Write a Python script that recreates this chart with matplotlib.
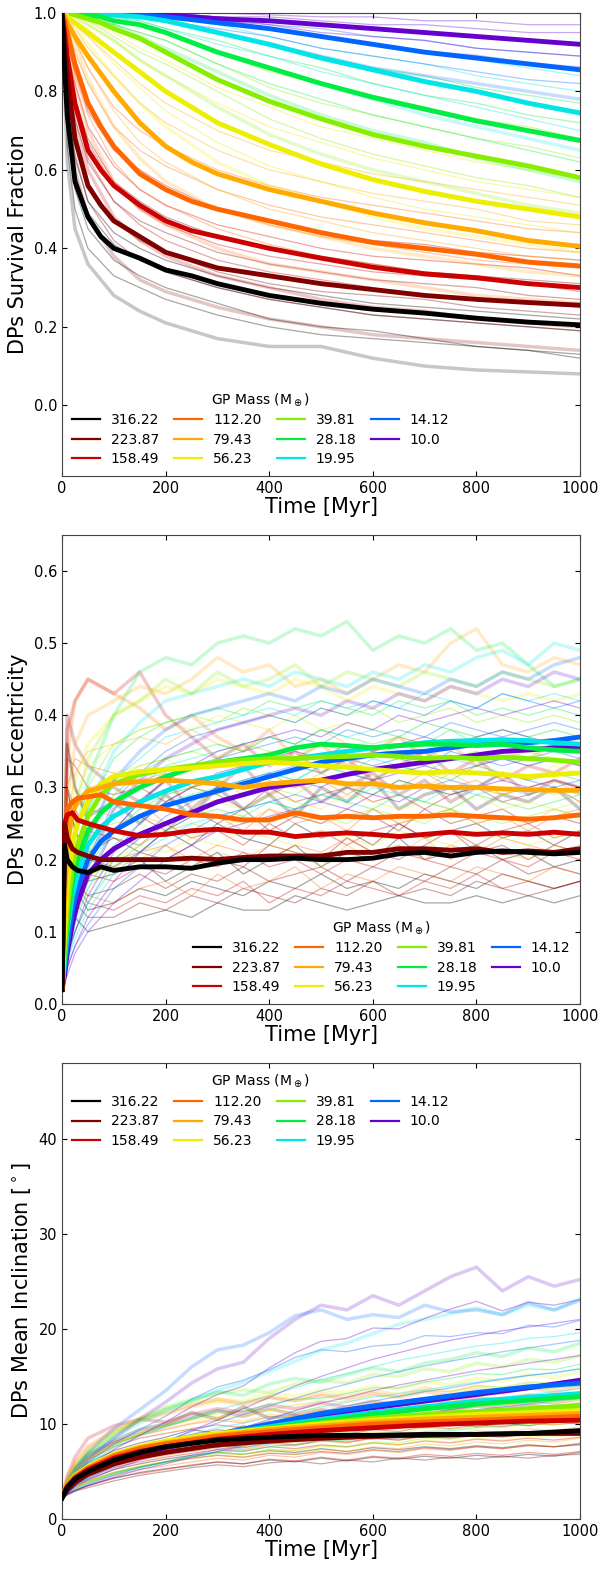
import matplotlib
matplotlib.use('Agg')
import matplotlib.pyplot as plt
from matplotlib.lines import Line2D

masses = ['316.22', '223.87', '158.49', '112.20', '79.43', '56.23',
          '39.81', '28.18', '19.95', '14.12', '10.0']
colors = ['#000000', '#800000', '#cc0000', '#ff6600', '#ffaa00', '#eeee00',
          '#88ee00', '#00ee44', '#00e5e5', '#0066ff', '#6600cc']

# ---- survival fraction, mean curves
t_surv = [0, 5, 10, 25, 50, 75, 100, 150, 200, 250, 300, 400, 500, 600, 700, 800, 900, 1000]
surv_mean = [
    [1.0, 0.86, 0.74, 0.57, 0.48, 0.43, 0.40, 0.375, 0.345, 0.33, 0.31, 0.28, 0.26, 0.245, 0.235, 0.222, 0.212, 0.205],
    [1.0, 0.92, 0.84, 0.68, 0.56, 0.51, 0.47, 0.43, 0.39, 0.37, 0.35, 0.33, 0.31, 0.295, 0.28, 0.27, 0.262, 0.255],
    [1.0, 0.95, 0.89, 0.77, 0.65, 0.60, 0.56, 0.51, 0.47, 0.445, 0.43, 0.40, 0.375, 0.352, 0.335, 0.325, 0.31, 0.30],
    [1.0, 0.98, 0.95, 0.87, 0.77, 0.71, 0.66, 0.59, 0.55, 0.52, 0.50, 0.47, 0.44, 0.415, 0.40, 0.385, 0.365, 0.355],
    [1.0, 0.99, 0.975, 0.94, 0.89, 0.845, 0.80, 0.72, 0.66, 0.62, 0.59, 0.55, 0.52, 0.49, 0.465, 0.445, 0.42, 0.405],
    [1.0, 1.0, 0.99, 0.975, 0.95, 0.925, 0.90, 0.85, 0.80, 0.76, 0.72, 0.665, 0.615, 0.575, 0.545, 0.52, 0.50, 0.48],
    [1.0, 1.0, 1.0, 0.995, 0.985, 0.975, 0.96, 0.935, 0.90, 0.865, 0.83, 0.775, 0.73, 0.69, 0.66, 0.635, 0.61, 0.58],
    [1.0, 1.0, 1.0, 1.0, 0.995, 0.99, 0.98, 0.97, 0.95, 0.925, 0.90, 0.86, 0.82, 0.785, 0.755, 0.725, 0.70, 0.675],
    [1.0, 1.0, 1.0, 1.0, 1.0, 0.998, 0.995, 0.99, 0.98, 0.965, 0.95, 0.92, 0.885, 0.855, 0.825, 0.80, 0.77, 0.745],
    [1.0, 1.0, 1.0, 1.0, 1.0, 1.0, 1.0, 0.995, 0.99, 0.983, 0.975, 0.96, 0.94, 0.92, 0.90, 0.885, 0.87, 0.855],
    [1.0, 1.0, 1.0, 1.0, 1.0, 1.0, 1.0, 1.0, 0.995, 0.99, 0.985, 0.98, 0.97, 0.96, 0.95, 0.94, 0.93, 0.92],
]

# ---- survival fraction, single runs (per mass)
t_surv_runs = [0, 10, 25, 50, 100, 150, 200, 300, 400, 500, 600, 700, 800, 900, 1000]
surv_runs = [
    [[1, 0.62, 0.45, 0.36, 0.28, 0.24, 0.21, 0.17, 0.15, 0.15, 0.12, 0.10, 0.09, 0.085, 0.08],
     [1, 0.70, 0.55, 0.45, 0.37, 0.33, 0.30, 0.26, 0.22, 0.20, 0.19, 0.17, 0.15, 0.14, 0.13],
     [1, 0.78, 0.63, 0.52, 0.44, 0.40, 0.37, 0.33, 0.30, 0.28, 0.26, 0.25, 0.24, 0.23, 0.22]],
    [[1, 0.75, 0.60, 0.48, 0.38, 0.32, 0.29, 0.25, 0.22, 0.20, 0.18, 0.17, 0.16, 0.15, 0.14],
     [1, 0.80, 0.68, 0.56, 0.47, 0.42, 0.39, 0.34, 0.31, 0.29, 0.28, 0.27, 0.25, 0.24, 0.23],
     [1, 0.88, 0.78, 0.68, 0.57, 0.52, 0.48, 0.43, 0.40, 0.38, 0.36, 0.34, 0.33, 0.32, 0.31]],
    [[1, 0.85, 0.72, 0.60, 0.48, 0.42, 0.38, 0.33, 0.30, 0.27, 0.25, 0.24, 0.22, 0.21, 0.20],
     [1, 0.88, 0.78, 0.67, 0.56, 0.50, 0.46, 0.41, 0.38, 0.36, 0.34, 0.33, 0.32, 0.31, 0.29],
     [1, 0.92, 0.85, 0.75, 0.65, 0.60, 0.56, 0.50, 0.47, 0.44, 0.42, 0.41, 0.39, 0.38, 0.37]],
    [[1, 0.92, 0.82, 0.70, 0.57, 0.50, 0.46, 0.40, 0.36, 0.34, 0.32, 0.30, 0.28, 0.27, 0.26],
     [1, 0.95, 0.87, 0.78, 0.66, 0.60, 0.55, 0.50, 0.46, 0.43, 0.41, 0.39, 0.37, 0.36, 0.35],
     [1, 0.98, 0.93, 0.86, 0.76, 0.70, 0.66, 0.60, 0.56, 0.53, 0.51, 0.49, 0.47, 0.45, 0.44]],
    [[1, 0.97, 0.92, 0.83, 0.71, 0.63, 0.57, 0.50, 0.46, 0.43, 0.40, 0.38, 0.36, 0.34, 0.33],
     [1, 0.98, 0.95, 0.89, 0.80, 0.72, 0.66, 0.59, 0.55, 0.52, 0.49, 0.47, 0.44, 0.42, 0.41],
     [1, 0.99, 0.97, 0.94, 0.88, 0.82, 0.77, 0.70, 0.65, 0.62, 0.59, 0.57, 0.55, 0.53, 0.51]],
    [[1, 0.99, 0.97, 0.92, 0.84, 0.77, 0.71, 0.62, 0.56, 0.52, 0.48, 0.45, 0.43, 0.41, 0.39],
     [1, 1.00, 0.99, 0.96, 0.90, 0.85, 0.80, 0.72, 0.66, 0.62, 0.58, 0.55, 0.52, 0.50, 0.48],
     [1, 1.00, 1.00, 0.98, 0.95, 0.91, 0.88, 0.81, 0.76, 0.71, 0.68, 0.65, 0.62, 0.60, 0.58]],
    [[1, 1.00, 0.99, 0.97, 0.93, 0.88, 0.84, 0.76, 0.69, 0.64, 0.60, 0.57, 0.54, 0.51, 0.49],
     [1, 1.00, 1.00, 0.99, 0.96, 0.93, 0.90, 0.83, 0.77, 0.73, 0.69, 0.66, 0.63, 0.61, 0.58],
     [1, 1.00, 1.00, 1.00, 0.98, 0.97, 0.95, 0.90, 0.85, 0.82, 0.79, 0.76, 0.73, 0.71, 0.68]],
    [[1, 1.00, 1.00, 0.99, 0.97, 0.94, 0.91, 0.85, 0.79, 0.74, 0.70, 0.67, 0.63, 0.60, 0.57],
     [1, 1.00, 1.00, 1.00, 0.98, 0.97, 0.95, 0.90, 0.86, 0.82, 0.78, 0.75, 0.72, 0.70, 0.67],
     [1, 1.00, 1.00, 1.00, 1.00, 0.99, 0.98, 0.95, 0.92, 0.89, 0.86, 0.84, 0.81, 0.79, 0.77]],
    [[1, 1.00, 1.00, 1.00, 0.99, 0.97, 0.95, 0.90, 0.86, 0.82, 0.78, 0.74, 0.71, 0.68, 0.65],
     [1, 1.00, 1.00, 1.00, 1.00, 0.99, 0.98, 0.95, 0.92, 0.89, 0.86, 0.83, 0.80, 0.77, 0.75],
     [1, 1.00, 1.00, 1.00, 1.00, 1.00, 0.99, 0.98, 0.96, 0.94, 0.92, 0.90, 0.88, 0.86, 0.84]],
    [[1, 1.00, 1.00, 1.00, 1.00, 0.99, 0.98, 0.95, 0.92, 0.89, 0.86, 0.84, 0.82, 0.80, 0.78],
     [1, 1.00, 1.00, 1.00, 1.00, 1.00, 0.99, 0.98, 0.96, 0.94, 0.92, 0.90, 0.89, 0.87, 0.86],
     [1, 1.00, 1.00, 1.00, 1.00, 1.00, 1.00, 0.99, 0.98, 0.97, 0.96, 0.95, 0.94, 0.93, 0.92]],
    [[1, 1.00, 1.00, 1.00, 1.00, 1.00, 0.99, 0.98, 0.96, 0.94, 0.92, 0.90, 0.89, 0.87, 0.86],
     [1, 1.00, 1.00, 1.00, 1.00, 1.00, 1.00, 0.99, 0.98, 0.97, 0.96, 0.95, 0.94, 0.93, 0.92],
     [1, 1.00, 1.00, 1.00, 1.00, 1.00, 1.00, 1.00, 0.995, 0.99, 0.99, 0.98, 0.98, 0.97, 0.97]],
]
surv_runs_b = [
    [[1, 0.66, 0.50, 0.40, 0.33, 0.30, 0.27, 0.23, 0.20, 0.18, 0.17, 0.16, 0.15, 0.14, 0.12],
     [1, 0.74, 0.59, 0.49, 0.41, 0.37, 0.34, 0.30, 0.27, 0.25, 0.23, 0.22, 0.21, 0.20, 0.19]],
    [[1, 0.78, 0.64, 0.52, 0.42, 0.37, 0.34, 0.30, 0.27, 0.25, 0.23, 0.22, 0.21, 0.20, 0.19],
     [1, 0.84, 0.73, 0.62, 0.52, 0.47, 0.44, 0.39, 0.36, 0.34, 0.32, 0.31, 0.30, 0.28, 0.27]],
    [[1, 0.86, 0.75, 0.63, 0.52, 0.46, 0.42, 0.37, 0.34, 0.32, 0.30, 0.28, 0.27, 0.26, 0.25],
     [1, 0.90, 0.82, 0.71, 0.61, 0.55, 0.51, 0.46, 0.43, 0.40, 0.38, 0.37, 0.36, 0.35, 0.33]],
    [[1, 0.93, 0.84, 0.74, 0.62, 0.55, 0.51, 0.45, 0.41, 0.38, 0.36, 0.34, 0.33, 0.31, 0.30],
     [1, 0.97, 0.90, 0.82, 0.71, 0.65, 0.61, 0.55, 0.51, 0.48, 0.46, 0.44, 0.42, 0.40, 0.39]],
    [[1, 0.97, 0.93, 0.86, 0.75, 0.67, 0.62, 0.55, 0.50, 0.47, 0.44, 0.42, 0.40, 0.38, 0.37],
     [1, 0.99, 0.96, 0.91, 0.84, 0.77, 0.72, 0.65, 0.60, 0.57, 0.54, 0.52, 0.50, 0.47, 0.46]],
    [[1, 0.99, 0.98, 0.94, 0.87, 0.81, 0.75, 0.67, 0.61, 0.57, 0.53, 0.50, 0.48, 0.46, 0.44],
     [1, 1.00, 1.00, 0.97, 0.93, 0.88, 0.84, 0.77, 0.71, 0.67, 0.63, 0.60, 0.57, 0.55, 0.53]],
    [[1, 1.00, 0.99, 0.98, 0.94, 0.90, 0.87, 0.80, 0.73, 0.68, 0.64, 0.61, 0.58, 0.56, 0.53],
     [1, 1.00, 1.00, 0.99, 0.97, 0.95, 0.93, 0.87, 0.81, 0.77, 0.74, 0.71, 0.68, 0.66, 0.63]],
    [[1, 1.00, 1.00, 0.99, 0.97, 0.95, 0.93, 0.87, 0.82, 0.78, 0.74, 0.71, 0.68, 0.65, 0.62],
     [1, 1.00, 1.00, 1.00, 0.99, 0.98, 0.96, 0.93, 0.89, 0.86, 0.82, 0.79, 0.77, 0.74, 0.72]],
    [[1, 1.00, 1.00, 1.00, 0.99, 0.98, 0.96, 0.92, 0.89, 0.85, 0.82, 0.79, 0.76, 0.73, 0.70],
     [1, 1.00, 1.00, 1.00, 1.00, 0.99, 0.99, 0.97, 0.94, 0.91, 0.89, 0.87, 0.84, 0.82, 0.80]],
    [[1, 1.00, 1.00, 1.00, 1.00, 0.99, 0.98, 0.96, 0.94, 0.91, 0.89, 0.87, 0.85, 0.83, 0.82],
     [1, 1.00, 1.00, 1.00, 1.00, 1.00, 0.99, 0.99, 0.97, 0.96, 0.94, 0.93, 0.91, 0.90, 0.89]],
    [[1, 1.00, 1.00, 1.00, 1.00, 1.00, 0.99, 0.98, 0.97, 0.95, 0.94, 0.93, 0.91, 0.90, 0.89],
     [1, 1.00, 1.00, 1.00, 1.00, 1.00, 1.00, 0.99, 0.99, 0.98, 0.97, 0.97, 0.96, 0.95, 0.95]],
]

# ---- mean eccentricity, mean curves
t_ecc = [0, 5, 10, 20, 30, 50, 75, 100, 150, 200, 250, 300, 350, 400, 450, 500,
         550, 600, 650, 700, 750, 800, 850, 900, 950, 1000]
ecc_mean = [
    [0.02, 0.22, 0.20, 0.19, 0.185, 0.182, 0.19, 0.185, 0.19, 0.19, 0.188, 0.195, 0.20, 0.20, 0.202, 0.20, 0.20, 0.202, 0.208, 0.21, 0.205, 0.21, 0.212, 0.21, 0.208, 0.21],
    [0.02, 0.25, 0.23, 0.215, 0.21, 0.205, 0.20, 0.20, 0.20, 0.20, 0.202, 0.20, 0.203, 0.205, 0.205, 0.205, 0.21, 0.21, 0.215, 0.215, 0.213, 0.215, 0.21, 0.212, 0.21, 0.215],
    [0.02, 0.25, 0.262, 0.265, 0.255, 0.25, 0.245, 0.24, 0.233, 0.235, 0.24, 0.242, 0.238, 0.238, 0.232, 0.235, 0.237, 0.235, 0.232, 0.235, 0.238, 0.235, 0.237, 0.235, 0.238, 0.235],
    [0.02, 0.22, 0.27, 0.28, 0.285, 0.287, 0.29, 0.28, 0.275, 0.27, 0.262, 0.26, 0.255, 0.255, 0.265, 0.258, 0.26, 0.258, 0.26, 0.26, 0.262, 0.26, 0.258, 0.256, 0.258, 0.262],
    [0.02, 0.15, 0.22, 0.265, 0.28, 0.295, 0.30, 0.305, 0.308, 0.31, 0.308, 0.305, 0.30, 0.305, 0.308, 0.31, 0.305, 0.305, 0.30, 0.302, 0.30, 0.30, 0.298, 0.297, 0.296, 0.296],
    [0.02, 0.10, 0.16, 0.22, 0.25, 0.28, 0.305, 0.315, 0.322, 0.325, 0.327, 0.33, 0.333, 0.335, 0.333, 0.33, 0.328, 0.325, 0.322, 0.32, 0.322, 0.32, 0.318, 0.315, 0.318, 0.32],
    [0.02, 0.08, 0.13, 0.19, 0.22, 0.26, 0.29, 0.305, 0.318, 0.325, 0.33, 0.335, 0.338, 0.34, 0.34, 0.342, 0.343, 0.345, 0.343, 0.34, 0.342, 0.34, 0.342, 0.34, 0.338, 0.335],
    [0.02, 0.07, 0.11, 0.17, 0.20, 0.24, 0.265, 0.28, 0.30, 0.315, 0.327, 0.335, 0.34, 0.345, 0.355, 0.36, 0.358, 0.355, 0.358, 0.36, 0.36, 0.358, 0.36, 0.355, 0.352, 0.35],
    [0.02, 0.06, 0.10, 0.15, 0.18, 0.22, 0.245, 0.26, 0.28, 0.295, 0.308, 0.315, 0.325, 0.335, 0.34, 0.345, 0.35, 0.355, 0.358, 0.362, 0.364, 0.365, 0.366, 0.365, 0.362, 0.36],
    [0.02, 0.05, 0.08, 0.13, 0.16, 0.20, 0.225, 0.24, 0.26, 0.275, 0.285, 0.295, 0.305, 0.315, 0.325, 0.335, 0.34, 0.345, 0.348, 0.35, 0.355, 0.36, 0.36, 0.362, 0.365, 0.37],
    [0.02, 0.04, 0.07, 0.11, 0.14, 0.18, 0.20, 0.215, 0.235, 0.25, 0.265, 0.28, 0.29, 0.30, 0.305, 0.31, 0.318, 0.325, 0.33, 0.335, 0.34, 0.345, 0.35, 0.352, 0.355, 0.355],
]

# ---- mean eccentricity, single runs
t_ecc_runs = [0, 10, 25, 50, 100, 150, 200, 250, 300, 350, 400, 450, 500, 550,
              600, 650, 700, 750, 800, 850, 900, 950, 1000]
ecc_runs = [
    [[0.02, 0.15, 0.12, 0.10, 0.11, 0.12, 0.13, 0.12, 0.14, 0.13, 0.13, 0.15, 0.14, 0.13, 0.14, 0.15, 0.14, 0.14, 0.15, 0.14, 0.15, 0.14, 0.15],
     [0.02, 0.24, 0.20, 0.17, 0.18, 0.20, 0.17, 0.19, 0.21, 0.18, 0.20, 0.22, 0.19, 0.21, 0.20, 0.23, 0.20, 0.21, 0.22, 0.20, 0.21, 0.19, 0.20],
     [0.02, 0.36, 0.30, 0.26, 0.28, 0.25, 0.29, 0.26, 0.30, 0.27, 0.29, 0.26, 0.30, 0.28, 0.31, 0.27, 0.29, 0.30, 0.27, 0.29, 0.28, 0.30, 0.27]],
    [[0.02, 0.18, 0.14, 0.12, 0.12, 0.14, 0.13, 0.15, 0.14, 0.16, 0.15, 0.14, 0.16, 0.15, 0.17, 0.15, 0.16, 0.15, 0.17, 0.16, 0.15, 0.16, 0.17],
     [0.02, 0.30, 0.24, 0.20, 0.19, 0.21, 0.20, 0.22, 0.20, 0.19, 0.22, 0.21, 0.20, 0.23, 0.21, 0.20, 0.22, 0.24, 0.21, 0.22, 0.20, 0.22, 0.21],
     [0.02, 0.40, 0.36, 0.33, 0.30, 0.28, 0.31, 0.27, 0.30, 0.33, 0.29, 0.31, 0.28, 0.30, 0.32, 0.29, 0.31, 0.28, 0.30, 0.32, 0.29, 0.31, 0.30]],
    [[0.02, 0.20, 0.17, 0.14, 0.13, 0.15, 0.14, 0.16, 0.15, 0.17, 0.14, 0.16, 0.15, 0.17, 0.16, 0.15, 0.17, 0.16, 0.18, 0.16, 0.17, 0.16, 0.17],
     [0.02, 0.30, 0.27, 0.24, 0.23, 0.22, 0.25, 0.23, 0.24, 0.22, 0.25, 0.23, 0.24, 0.22, 0.24, 0.25, 0.23, 0.24, 0.22, 0.24, 0.25, 0.23, 0.24],
     [0.02, 0.38, 0.42, 0.45, 0.43, 0.46, 0.40, 0.37, 0.34, 0.36, 0.33, 0.35, 0.32, 0.34, 0.31, 0.33, 0.35, 0.32, 0.34, 0.31, 0.33, 0.32, 0.34]],
    [[0.02, 0.18, 0.17, 0.15, 0.14, 0.16, 0.17, 0.15, 0.18, 0.16, 0.17, 0.19, 0.16, 0.18, 0.17, 0.19, 0.18, 0.17, 0.19, 0.18, 0.17, 0.19, 0.18],
     [0.02, 0.27, 0.28, 0.27, 0.26, 0.28, 0.25, 0.27, 0.26, 0.24, 0.27, 0.25, 0.26, 0.24, 0.27, 0.25, 0.26, 0.27, 0.25, 0.26, 0.24, 0.26, 0.27],
     [0.02, 0.34, 0.42, 0.45, 0.43, 0.41, 0.38, 0.40, 0.37, 0.35, 0.38, 0.34, 0.36, 0.33, 0.35, 0.37, 0.34, 0.36, 0.33, 0.35, 0.34, 0.36, 0.35]],
    [[0.02, 0.14, 0.17, 0.18, 0.19, 0.20, 0.22, 0.19, 0.21, 0.20, 0.22, 0.21, 0.19, 0.22, 0.20, 0.21, 0.23, 0.20, 0.22, 0.21, 0.20, 0.22, 0.21],
     [0.02, 0.22, 0.28, 0.30, 0.31, 0.30, 0.32, 0.30, 0.31, 0.29, 0.31, 0.30, 0.32, 0.30, 0.29, 0.31, 0.30, 0.32, 0.30, 0.29, 0.30, 0.31, 0.29],
     [0.02, 0.28, 0.36, 0.40, 0.42, 0.44, 0.43, 0.45, 0.48, 0.46, 0.47, 0.44, 0.45, 0.43, 0.45, 0.47, 0.46, 0.50, 0.52, 0.47, 0.46, 0.48, 0.47]],
    [[0.02, 0.10, 0.14, 0.17, 0.20, 0.22, 0.21, 0.23, 0.22, 0.24, 0.23, 0.22, 0.24, 0.23, 0.22, 0.24, 0.23, 0.22, 0.24, 0.23, 0.22, 0.23, 0.24],
     [0.02, 0.16, 0.24, 0.29, 0.32, 0.33, 0.34, 0.32, 0.34, 0.33, 0.35, 0.33, 0.32, 0.34, 0.33, 0.32, 0.34, 0.31, 0.33, 0.32, 0.31, 0.33, 0.32],
     [0.02, 0.22, 0.31, 0.36, 0.40, 0.42, 0.44, 0.43, 0.45, 0.44, 0.43, 0.45, 0.44, 0.42, 0.44, 0.43, 0.42, 0.44, 0.43, 0.42, 0.43, 0.42, 0.43]],
    [[0.02, 0.08, 0.12, 0.16, 0.20, 0.23, 0.24, 0.25, 0.24, 0.26, 0.25, 0.27, 0.26, 0.25, 0.27, 0.26, 0.25, 0.27, 0.26, 0.25, 0.26, 0.27, 0.26],
     [0.02, 0.13, 0.20, 0.26, 0.31, 0.33, 0.34, 0.35, 0.34, 0.36, 0.35, 0.34, 0.36, 0.35, 0.34, 0.36, 0.35, 0.34, 0.35, 0.34, 0.35, 0.34, 0.33],
     [0.02, 0.18, 0.27, 0.34, 0.40, 0.42, 0.45, 0.43, 0.46, 0.44, 0.45, 0.47, 0.44, 0.46, 0.45, 0.44, 0.46, 0.45, 0.44, 0.46, 0.45, 0.44, 0.45]],
    [[0.02, 0.07, 0.10, 0.14, 0.19, 0.22, 0.24, 0.26, 0.27, 0.26, 0.28, 0.27, 0.29, 0.28, 0.27, 0.29, 0.28, 0.27, 0.29, 0.28, 0.27, 0.28, 0.29],
     [0.02, 0.11, 0.17, 0.23, 0.29, 0.32, 0.34, 0.35, 0.36, 0.35, 0.37, 0.36, 0.38, 0.37, 0.36, 0.37, 0.36, 0.38, 0.36, 0.37, 0.36, 0.35, 0.36],
     [0.02, 0.14, 0.23, 0.31, 0.40, 0.46, 0.48, 0.47, 0.50, 0.51, 0.50, 0.52, 0.51, 0.53, 0.49, 0.51, 0.50, 0.52, 0.49, 0.50, 0.47, 0.44, 0.45]],
    [[0.02, 0.06, 0.09, 0.13, 0.18, 0.21, 0.23, 0.25, 0.26, 0.27, 0.28, 0.27, 0.29, 0.28, 0.30, 0.29, 0.28, 0.30, 0.29, 0.30, 0.29, 0.30, 0.29],
     [0.02, 0.09, 0.14, 0.20, 0.27, 0.30, 0.33, 0.34, 0.35, 0.36, 0.37, 0.36, 0.38, 0.37, 0.38, 0.37, 0.39, 0.38, 0.37, 0.38, 0.37, 0.38, 0.37],
     [0.02, 0.12, 0.19, 0.27, 0.35, 0.39, 0.42, 0.43, 0.44, 0.45, 0.44, 0.46, 0.45, 0.44, 0.46, 0.45, 0.47, 0.46, 0.48, 0.49, 0.47, 0.50, 0.49]],
    [[0.02, 0.05, 0.08, 0.11, 0.16, 0.19, 0.22, 0.24, 0.26, 0.27, 0.28, 0.29, 0.28, 0.30, 0.29, 0.31, 0.30, 0.31, 0.30, 0.32, 0.31, 0.30, 0.31],
     [0.02, 0.08, 0.12, 0.18, 0.24, 0.28, 0.31, 0.33, 0.34, 0.35, 0.36, 0.37, 0.36, 0.38, 0.37, 0.38, 0.37, 0.39, 0.38, 0.37, 0.38, 0.39, 0.38],
     [0.02, 0.10, 0.16, 0.23, 0.31, 0.35, 0.38, 0.40, 0.41, 0.42, 0.43, 0.42, 0.44, 0.43, 0.45, 0.44, 0.43, 0.45, 0.44, 0.46, 0.45, 0.47, 0.48]],
    [[0.02, 0.04, 0.07, 0.10, 0.14, 0.17, 0.20, 0.22, 0.24, 0.25, 0.26, 0.27, 0.28, 0.27, 0.29, 0.28, 0.30, 0.29, 0.30, 0.31, 0.30, 0.31, 0.30],
     [0.02, 0.07, 0.10, 0.15, 0.21, 0.25, 0.28, 0.30, 0.32, 0.33, 0.34, 0.35, 0.34, 0.36, 0.35, 0.36, 0.37, 0.36, 0.37, 0.38, 0.37, 0.36, 0.37],
     [0.02, 0.09, 0.13, 0.19, 0.27, 0.31, 0.34, 0.36, 0.38, 0.39, 0.40, 0.41, 0.40, 0.42, 0.41, 0.43, 0.42, 0.44, 0.43, 0.45, 0.44, 0.46, 0.45]],
]
ecc_runs_b = [
    [[0.02, 0.20, 0.16, 0.13, 0.14, 0.16, 0.15, 0.17, 0.16, 0.15, 0.17, 0.16, 0.18, 0.16, 0.17, 0.16, 0.18, 0.17, 0.16, 0.18, 0.17, 0.16, 0.17],
     [0.02, 0.30, 0.24, 0.21, 0.23, 0.21, 0.24, 0.22, 0.25, 0.23, 0.22, 0.25, 0.23, 0.24, 0.22, 0.25, 0.23, 0.24, 0.25, 0.23, 0.24, 0.22, 0.24]],
    [[0.02, 0.22, 0.17, 0.15, 0.16, 0.18, 0.16, 0.18, 0.17, 0.19, 0.17, 0.18, 0.19, 0.17, 0.19, 0.18, 0.17, 0.19, 0.18, 0.20, 0.18, 0.19, 0.18],
     [0.02, 0.36, 0.30, 0.25, 0.24, 0.26, 0.24, 0.27, 0.25, 0.27, 0.24, 0.26, 0.25, 0.27, 0.26, 0.24, 0.27, 0.25, 0.26, 0.27, 0.25, 0.26, 0.25]],
    [[0.02, 0.24, 0.21, 0.18, 0.17, 0.19, 0.18, 0.20, 0.19, 0.21, 0.19, 0.20, 0.18, 0.20, 0.19, 0.21, 0.20, 0.19, 0.21, 0.20, 0.19, 0.21, 0.20],
     [0.02, 0.34, 0.33, 0.30, 0.29, 0.30, 0.28, 0.30, 0.29, 0.27, 0.30, 0.28, 0.29, 0.30, 0.28, 0.29, 0.27, 0.29, 0.30, 0.28, 0.29, 0.30, 0.28]],
    [[0.02, 0.22, 0.22, 0.20, 0.20, 0.21, 0.22, 0.20, 0.22, 0.21, 0.20, 0.22, 0.21, 0.23, 0.21, 0.22, 0.20, 0.22, 0.21, 0.23, 0.22, 0.21, 0.22],
     [0.02, 0.30, 0.34, 0.33, 0.32, 0.31, 0.32, 0.30, 0.31, 0.30, 0.32, 0.30, 0.31, 0.29, 0.31, 0.30, 0.32, 0.30, 0.31, 0.29, 0.30, 0.31, 0.30]],
    [[0.02, 0.18, 0.22, 0.24, 0.25, 0.26, 0.25, 0.27, 0.26, 0.25, 0.27, 0.26, 0.25, 0.26, 0.27, 0.25, 0.26, 0.27, 0.25, 0.26, 0.25, 0.27, 0.26],
     [0.02, 0.25, 0.32, 0.35, 0.36, 0.37, 0.36, 0.38, 0.36, 0.35, 0.37, 0.36, 0.38, 0.36, 0.35, 0.37, 0.36, 0.35, 0.37, 0.36, 0.35, 0.36, 0.35]],
    [[0.02, 0.13, 0.19, 0.23, 0.26, 0.28, 0.27, 0.29, 0.28, 0.27, 0.29, 0.28, 0.27, 0.29, 0.28, 0.27, 0.28, 0.27, 0.29, 0.27, 0.28, 0.27, 0.28],
     [0.02, 0.19, 0.28, 0.33, 0.36, 0.38, 0.39, 0.38, 0.40, 0.39, 0.38, 0.40, 0.38, 0.39, 0.38, 0.37, 0.39, 0.38, 0.37, 0.38, 0.37, 0.38, 0.37]],
    [[0.02, 0.10, 0.16, 0.21, 0.26, 0.28, 0.29, 0.30, 0.29, 0.31, 0.30, 0.29, 0.31, 0.30, 0.29, 0.31, 0.30, 0.29, 0.30, 0.29, 0.30, 0.29, 0.30],
     [0.02, 0.15, 0.23, 0.30, 0.36, 0.38, 0.39, 0.40, 0.39, 0.41, 0.40, 0.39, 0.41, 0.40, 0.41, 0.39, 0.40, 0.41, 0.39, 0.40, 0.39, 0.40, 0.39]],
    [[0.02, 0.09, 0.14, 0.19, 0.24, 0.27, 0.29, 0.30, 0.31, 0.30, 0.32, 0.31, 0.33, 0.32, 0.31, 0.33, 0.32, 0.31, 0.33, 0.32, 0.31, 0.32, 0.31],
     [0.02, 0.13, 0.20, 0.27, 0.34, 0.37, 0.39, 0.40, 0.41, 0.40, 0.42, 0.41, 0.42, 0.41, 0.40, 0.42, 0.41, 0.42, 0.40, 0.41, 0.40, 0.41, 0.40]],
    [[0.02, 0.07, 0.11, 0.16, 0.22, 0.25, 0.28, 0.29, 0.30, 0.31, 0.32, 0.31, 0.33, 0.32, 0.34, 0.33, 0.32, 0.34, 0.33, 0.34, 0.33, 0.34, 0.33],
     [0.02, 0.10, 0.16, 0.23, 0.31, 0.34, 0.37, 0.38, 0.39, 0.40, 0.41, 0.40, 0.42, 0.41, 0.42, 0.41, 0.43, 0.42, 0.41, 0.43, 0.42, 0.43, 0.42]],
    [[0.02, 0.06, 0.10, 0.14, 0.20, 0.23, 0.26, 0.28, 0.30, 0.31, 0.32, 0.33, 0.32, 0.34, 0.33, 0.34, 0.33, 0.35, 0.34, 0.33, 0.34, 0.35, 0.34],
     [0.02, 0.09, 0.14, 0.20, 0.28, 0.32, 0.35, 0.37, 0.38, 0.39, 0.40, 0.39, 0.41, 0.40, 0.42, 0.41, 0.40, 0.42, 0.41, 0.43, 0.42, 0.41, 0.42]],
    [[0.02, 0.05, 0.08, 0.12, 0.17, 0.21, 0.24, 0.26, 0.28, 0.29, 0.30, 0.31, 0.30, 0.32, 0.31, 0.32, 0.33, 0.32, 0.33, 0.34, 0.33, 0.34, 0.33],
     [0.02, 0.08, 0.12, 0.17, 0.24, 0.28, 0.31, 0.33, 0.35, 0.36, 0.37, 0.38, 0.37, 0.39, 0.38, 0.40, 0.39, 0.40, 0.41, 0.40, 0.41, 0.42, 0.41]],
]

# ---- mean inclination, mean curves
t_inc = [0, 10, 25, 50, 100, 150, 200, 300, 400, 500, 600, 700, 800, 900, 1000]
inc_mean = [
    [2.2, 3.3, 4.2, 5.0, 6.2, 7.0, 7.6, 8.3, 8.6, 8.8, 8.8, 8.9, 8.9, 9.0, 9.3],
    [2.2, 3.1, 3.9, 4.7, 5.8, 6.5, 7.0, 7.8, 8.2, 8.5, 8.7, 8.8, 8.9, 9.0, 9.0],
    [2.3, 3.4, 4.3, 5.2, 6.4, 7.1, 7.6, 8.4, 8.9, 9.3, 9.6, 9.9, 10.1, 10.3, 10.4],
    [2.3, 3.5, 4.4, 5.3, 6.6, 7.4, 7.9, 8.7, 9.2, 9.6, 10.0, 10.2, 10.4, 10.6, 10.8],
    [2.3, 3.5, 4.5, 5.4, 6.7, 7.5, 8.0, 8.8, 9.4, 9.8, 10.2, 10.5, 10.7, 10.9, 11.1],
    [2.3, 3.6, 4.6, 5.5, 6.8, 7.6, 8.2, 9.0, 9.5, 10.0, 10.4, 10.7, 11.0, 11.2, 11.4],
    [2.3, 3.4, 4.4, 5.3, 6.7, 7.5, 8.1, 8.9, 9.5, 10.1, 10.6, 11.0, 11.3, 11.6, 11.9],
    [2.3, 3.3, 4.2, 5.2, 6.6, 7.4, 8.0, 8.9, 9.6, 10.3, 11.0, 11.6, 12.1, 12.5, 12.9],
    [2.3, 3.2, 4.1, 5.1, 6.5, 7.3, 8.0, 8.9, 9.7, 10.5, 11.2, 11.8, 12.4, 12.8, 13.2],
    [2.3, 3.1, 4.0, 5.0, 6.4, 7.3, 7.9, 8.9, 10.0, 11.1, 11.9, 12.6, 13.3, 13.9, 14.3],
    [2.3, 3.0, 3.8, 4.8, 6.0, 6.9, 7.5, 8.6, 9.8, 10.9, 11.7, 12.4, 13.1, 13.8, 14.6],
]

# ---- mean inclination, single runs
t_inc_runs = [0, 10, 25, 50, 100, 150, 200, 250, 300, 350, 400, 450, 500, 550,
              600, 650, 700, 750, 800, 850, 900, 950, 1000]
inc_runs = [
    [[2.2, 2.6, 3.0, 3.5, 4.3, 4.9, 5.3, 5.6, 6.0, 5.8, 6.2, 6.0, 6.4, 6.1, 6.5, 6.3, 6.6, 6.4, 6.7, 6.5, 6.8, 6.6, 7.0],
     [2.2, 3.3, 4.2, 5.0, 6.1, 6.6, 7.3, 7.8, 7.5, 8.2, 8.0, 8.5, 8.3, 8.7, 8.4, 8.8, 8.6, 8.9, 8.7, 9.1, 8.8, 9.2, 9.0],
     [2.2, 4.0, 5.5, 6.8, 8.2, 9.4, 10.0, 11.2, 10.5, 11.8, 10.6, 10.9, 10.3, 10.8, 10.4, 10.1, 10.6, 10.2, 10.5, 10.3, 10.7, 10.4, 10.6]],
    [[2.2, 2.5, 2.9, 3.3, 4.0, 4.6, 5.0, 5.4, 5.7, 5.5, 5.9, 6.1, 5.8, 6.2, 6.0, 6.4, 6.2, 6.5, 6.3, 6.6, 6.4, 6.7, 6.8],
     [2.2, 3.1, 3.9, 4.7, 5.7, 6.4, 6.9, 7.3, 7.7, 7.5, 8.0, 7.8, 8.3, 8.1, 8.5, 8.3, 8.7, 8.5, 8.8, 8.6, 9.0, 8.8, 9.1],
     [2.2, 3.8, 5.2, 6.5, 8.0, 9.0, 9.8, 10.6, 11.4, 10.8, 11.6, 11.0, 11.5, 11.1, 11.7, 11.3, 11.8, 11.4, 11.9, 11.6, 12.0, 11.7, 12.1]],
    [[2.3, 2.6, 3.0, 3.5, 4.3, 4.8, 5.2, 5.7, 6.0, 5.8, 6.3, 6.1, 6.5, 6.2, 6.6, 6.4, 6.8, 6.6, 6.9, 6.7, 7.0, 6.8, 7.1],
     [2.3, 3.4, 4.3, 5.2, 6.3, 7.0, 7.6, 8.0, 8.4, 8.2, 8.8, 8.6, 9.1, 8.9, 9.4, 9.2, 9.7, 9.5, 9.9, 9.7, 10.1, 9.9, 10.2],
     [2.3, 4.5, 6.5, 8.5, 9.8, 10.5, 10.2, 11.0, 11.6, 11.2, 12.0, 11.6, 12.2, 11.8, 12.4, 12.0, 12.6, 12.2, 12.8, 12.4, 13.0, 12.6, 13.2]],
    [[2.3, 2.7, 3.2, 3.8, 4.6, 5.2, 5.6, 6.0, 6.4, 6.2, 6.7, 6.5, 7.0, 6.8, 7.2, 7.0, 7.4, 7.2, 7.6, 7.4, 7.8, 7.6, 8.0],
     [2.3, 3.5, 4.4, 5.3, 6.5, 7.3, 7.8, 8.3, 8.7, 8.5, 9.1, 9.0, 9.5, 9.3, 9.8, 9.6, 10.1, 9.9, 10.3, 10.1, 10.5, 10.3, 10.7],
     [2.3, 4.3, 6.0, 7.6, 9.4, 10.5, 11.2, 12.0, 12.6, 12.2, 12.8, 12.4, 13.0, 12.6, 13.2, 12.8, 13.4, 13.0, 13.6, 13.2, 13.8, 13.4, 13.9]],
    [[2.3, 2.8, 3.3, 3.9, 4.8, 5.4, 5.9, 6.3, 6.7, 6.5, 7.0, 6.8, 7.3, 7.1, 7.6, 7.4, 7.9, 7.7, 8.1, 7.9, 8.3, 8.1, 8.5],
     [2.3, 3.5, 4.5, 5.4, 6.6, 7.4, 8.0, 8.5, 8.9, 8.7, 9.3, 9.2, 9.8, 9.6, 10.1, 9.9, 10.4, 10.2, 10.6, 10.4, 10.8, 10.6, 11.0],
     [2.3, 4.2, 5.8, 7.4, 9.2, 10.3, 11.0, 11.8, 12.4, 12.0, 12.8, 12.5, 13.2, 12.9, 13.5, 13.1, 13.8, 13.4, 14.0, 13.6, 14.2, 13.8, 14.4]],
    [[2.3, 2.8, 3.4, 4.0, 4.9, 5.6, 6.1, 6.6, 7.0, 6.8, 7.3, 7.2, 7.7, 7.5, 8.0, 7.8, 8.3, 8.1, 8.5, 8.3, 8.7, 8.6, 8.9],
     [2.3, 3.6, 4.6, 5.5, 6.8, 7.6, 8.2, 8.7, 9.1, 9.0, 9.6, 9.5, 10.1, 9.9, 10.4, 10.3, 10.8, 10.6, 11.0, 10.9, 11.3, 11.1, 11.5],
     [2.3, 4.0, 5.6, 7.2, 9.0, 10.4, 11.5, 12.2, 12.6, 12.4, 13.2, 12.9, 13.6, 13.3, 14.0, 13.7, 14.4, 14.1, 14.8, 14.5, 15.2, 14.9, 15.5]],
    [[2.3, 2.8, 3.3, 3.9, 4.8, 5.5, 6.0, 6.5, 6.9, 6.8, 7.3, 7.2, 7.7, 7.6, 8.1, 8.0, 8.5, 8.4, 8.8, 8.7, 9.1, 9.0, 9.3],
     [2.3, 3.4, 4.4, 5.3, 6.7, 7.5, 8.1, 8.6, 9.0, 9.2, 9.6, 9.9, 10.3, 10.5, 10.9, 11.0, 11.4, 11.5, 11.8, 12.0, 12.2, 12.3, 12.6],
     [2.3, 3.9, 5.4, 7.0, 9.0, 10.6, 11.8, 12.6, 13.2, 13.6, 13.3, 14.2, 14.6, 14.3, 15.2, 15.0, 15.8, 15.5, 16.4, 16.0, 16.8, 16.5, 17.2]],
    [[2.3, 2.7, 3.2, 3.8, 4.8, 5.5, 6.0, 6.5, 7.0, 7.2, 7.6, 7.8, 8.2, 8.3, 8.7, 8.8, 9.2, 9.3, 9.6, 9.8, 10.0, 10.2, 10.4],
     [2.3, 3.3, 4.2, 5.2, 6.6, 7.4, 8.0, 8.7, 9.2, 9.6, 10.1, 10.5, 11.0, 11.3, 11.8, 12.1, 12.5, 12.8, 13.1, 13.3, 13.6, 13.8, 14.0],
     [2.3, 3.8, 5.2, 6.8, 8.8, 10.4, 11.6, 12.4, 13.4, 13.0, 14.2, 14.8, 14.4, 15.2, 15.9, 15.5, 16.4, 16.8, 17.5, 17.1, 18.0, 17.6, 18.5]],
    [[2.3, 2.7, 3.1, 3.7, 4.7, 5.4, 6.0, 6.6, 7.1, 7.5, 7.9, 8.3, 8.7, 9.0, 9.4, 9.7, 10.0, 10.3, 10.6, 10.9, 11.2, 11.4, 11.7],
     [2.3, 3.2, 4.1, 5.1, 6.5, 7.4, 8.1, 8.9, 9.6, 10.1, 10.7, 11.2, 11.8, 12.3, 12.8, 13.2, 13.6, 14.0, 14.4, 14.8, 15.1, 15.4, 15.8],
     [2.3, 3.6, 5.0, 6.5, 8.5, 10.1, 11.4, 12.5, 13.5, 14.4, 15.5, 16.6, 17.8, 18.5, 19.5, 20.5, 21.0, 21.6, 22.2, 21.5, 22.5, 22.0, 23.2]],
    [[2.3, 2.6, 3.0, 3.6, 4.6, 5.4, 6.0, 6.7, 7.3, 7.8, 8.3, 8.8, 9.2, 9.6, 10.0, 10.4, 10.8, 11.1, 11.5, 11.8, 12.1, 12.4, 12.7],
     [2.3, 3.1, 4.0, 5.0, 6.4, 7.4, 8.2, 9.2, 10.1, 11.0, 11.9, 12.7, 13.5, 14.2, 14.9, 15.5, 16.1, 16.6, 17.1, 17.6, 18.0, 18.4, 18.8],
     [2.3, 3.7, 5.2, 7.0, 9.5, 11.5, 13.5, 16.0, 17.8, 18.3, 19.6, 21.4, 22.0, 21.0, 21.5, 21.2, 22.5, 21.8, 22.0, 21.5, 22.8, 22.0, 23.0]],
    [[2.3, 2.6, 3.0, 3.5, 4.4, 5.2, 5.8, 6.5, 7.1, 7.7, 8.3, 8.8, 9.3, 9.8, 10.3, 10.7, 11.1, 11.5, 11.9, 12.3, 12.6, 13.0, 13.3],
     [2.3, 3.0, 3.8, 4.8, 6.1, 7.2, 8.1, 9.3, 10.4, 11.6, 12.8, 14.0, 15.0, 15.9, 16.8, 17.5, 18.2, 18.8, 19.3, 19.8, 20.2, 20.6, 21.0],
     [2.3, 3.4, 4.7, 6.3, 8.5, 10.5, 12.3, 14.3, 15.8, 16.5, 19.0, 21.0, 22.5, 22.0, 23.5, 22.5, 24.0, 25.5, 26.5, 24.0, 25.5, 24.5, 25.2]],
]
inc_runs_b = [
    [[2.2, 2.9, 3.6, 4.2, 5.2, 5.8, 6.3, 6.7, 7.0, 6.8, 7.2, 7.0, 7.4, 7.1, 7.5, 7.3, 7.6, 7.4, 7.7, 7.5, 7.8, 7.6, 7.9],
     [2.2, 3.6, 4.8, 5.9, 7.2, 8.0, 8.6, 9.4, 9.0, 9.8, 9.3, 9.7, 9.4, 9.9, 9.5, 9.8, 9.6, 10.0, 9.7, 10.1, 9.8, 10.2, 10.0]],
    [[2.2, 2.8, 3.4, 4.0, 4.9, 5.5, 6.0, 6.4, 6.7, 6.5, 6.9, 6.8, 7.1, 6.9, 7.3, 7.1, 7.5, 7.3, 7.6, 7.4, 7.7, 7.6, 7.8],
     [2.2, 3.4, 4.5, 5.5, 6.8, 7.7, 8.3, 8.9, 9.4, 9.1, 9.6, 9.3, 9.8, 9.5, 10.0, 9.7, 10.1, 9.8, 10.2, 10.0, 10.3, 10.1, 10.4]],
    [[2.3, 3.0, 3.7, 4.4, 5.4, 6.0, 6.5, 6.9, 7.3, 7.1, 7.6, 7.4, 7.8, 7.6, 8.0, 7.8, 8.2, 8.0, 8.4, 8.2, 8.5, 8.3, 8.6],
     [2.3, 3.8, 5.0, 6.2, 7.6, 8.5, 9.0, 9.5, 9.9, 9.6, 10.3, 10.0, 10.6, 10.3, 10.9, 10.6, 11.2, 10.9, 11.4, 11.1, 11.6, 11.3, 11.8]],
    [[2.3, 3.1, 3.8, 4.5, 5.5, 6.2, 6.7, 7.1, 7.5, 7.3, 7.8, 7.7, 8.2, 8.0, 8.5, 8.3, 8.8, 8.6, 9.0, 8.8, 9.2, 9.0, 9.4],
     [2.3, 3.9, 5.2, 6.4, 7.9, 8.8, 9.4, 10.0, 10.4, 10.1, 10.8, 10.6, 11.2, 11.0, 11.5, 11.3, 11.9, 11.6, 12.1, 11.9, 12.3, 12.1, 12.5]],
    [[2.3, 3.1, 3.9, 4.6, 5.6, 6.3, 6.9, 7.3, 7.7, 7.6, 8.1, 8.0, 8.5, 8.3, 8.8, 8.6, 9.1, 8.9, 9.3, 9.1, 9.5, 9.3, 9.7],
     [2.3, 3.9, 5.2, 6.4, 7.9, 8.8, 9.5, 10.1, 10.6, 10.3, 11.0, 10.8, 11.5, 11.2, 11.8, 11.5, 12.1, 11.8, 12.3, 12.0, 12.5, 12.2, 12.7]],
    [[2.3, 3.2, 4.0, 4.7, 5.8, 6.5, 7.1, 7.6, 8.0, 7.9, 8.4, 8.3, 8.8, 8.7, 9.2, 9.0, 9.5, 9.4, 9.8, 9.6, 10.0, 9.9, 10.2],
     [2.3, 3.8, 5.1, 6.3, 7.9, 9.0, 9.8, 10.4, 10.8, 10.7, 11.4, 11.2, 11.8, 11.6, 12.2, 12.0, 12.6, 12.4, 12.9, 12.7, 13.2, 13.0, 13.4]],
    [[2.3, 3.1, 3.8, 4.6, 5.7, 6.5, 7.0, 7.5, 7.9, 8.0, 8.4, 8.5, 9.0, 9.1, 9.5, 9.5, 9.9, 10.0, 10.3, 10.4, 10.6, 10.7, 10.9],
     [2.3, 3.7, 4.9, 6.2, 7.8, 9.0, 9.9, 10.6, 11.1, 11.4, 11.5, 12.0, 12.4, 12.3, 13.0, 12.9, 13.5, 13.4, 14.0, 13.9, 14.4, 14.3, 14.8]],
    [[2.3, 3.0, 3.7, 4.5, 5.7, 6.5, 7.0, 7.6, 8.1, 8.4, 8.8, 9.2, 9.6, 9.8, 10.2, 10.4, 10.8, 11.0, 11.3, 11.5, 11.8, 12.0, 12.2],
     [2.3, 3.6, 4.7, 6.0, 7.7, 8.9, 9.8, 10.5, 11.3, 11.3, 12.1, 12.6, 12.7, 13.2, 13.8, 13.8, 14.4, 14.8, 15.3, 15.2, 15.8, 15.7, 16.3]],
    [[2.3, 2.9, 3.6, 4.4, 5.6, 6.4, 7.0, 7.7, 8.3, 8.8, 9.3, 9.7, 10.2, 10.6, 11.1, 11.4, 11.8, 12.1, 12.5, 12.8, 13.1, 13.4, 13.7],
     [2.3, 3.4, 4.5, 5.8, 7.5, 8.7, 9.7, 10.7, 11.5, 12.2, 13.0, 13.8, 14.7, 15.3, 16.0, 16.7, 17.2, 17.7, 18.2, 18.5, 19.0, 19.2, 19.6]],
    [[2.3, 2.8, 3.5, 4.3, 5.5, 6.4, 7.1, 7.9, 8.7, 9.4, 10.1, 10.7, 11.3, 11.9, 12.4, 12.9, 13.4, 13.8, 14.3, 14.7, 15.1, 15.4, 15.8],
     [2.3, 3.4, 4.6, 6.0, 7.9, 9.4, 10.8, 12.6, 13.9, 14.6, 15.7, 17.0, 17.8, 17.6, 18.2, 18.4, 19.3, 19.2, 19.6, 19.5, 20.4, 20.2, 20.9]],
    [[2.3, 2.8, 3.4, 4.1, 5.2, 6.2, 7.0, 7.9, 8.7, 9.6, 10.5, 11.4, 12.2, 12.8, 13.5, 14.1, 14.6, 15.1, 15.6, 16.0, 16.4, 16.8, 17.2],
     [2.3, 3.2, 4.2, 5.5, 7.3, 8.8, 10.2, 11.8, 13.1, 14.0, 15.9, 17.5, 18.7, 19.0, 20.1, 20.0, 21.1, 22.1, 22.9, 21.9, 22.8, 22.5, 23.1]],
]


def draw_panel(ax, t_runs, runs, runs_b, t_mean, means, thick_idx):
    for i in range(len(masses)):
        for j, run in enumerate(runs[i]):
            if j == thick_idx:
                ax.plot(t_runs, run, color=colors[i], lw=2.5, alpha=0.22, zorder=1)
            else:
                ax.plot(t_runs, run, color=colors[i], lw=0.9, alpha=0.35, zorder=1)
        for run in runs_b[i]:
            ax.plot(t_runs, run, color=colors[i], lw=0.9, alpha=0.35, zorder=1)
    # heaviest GP on top
    for i in reversed(range(len(masses))):
        ax.plot(t_mean, means[i], color=colors[i], lw=3.5, zorder=3)
    ax.set_xlim(0, 1000)
    ax.set_xticks([0, 200, 400, 600, 800, 1000])
    ax.tick_params(direction='in', top=True, right=True, labelsize=10.5)
    for s in ax.spines.values():
        s.set_color('#444444')
    ax.set_xlabel('Time [Myr]', fontsize=15, labelpad=1)


def add_legend(ax, loc):
    handles = [Line2D([0], [0], color=c, lw=1.6) for c in colors]
    ax.legend(handles, masses, ncol=4, loc=loc, frameon=False, fontsize=10,
              title=r'GP Mass (M$_\oplus$)', title_fontsize=10, labelspacing=0.4,
              handletextpad=0.8, columnspacing=1.1, borderaxespad=0.3)


fig = plt.figure(figsize=(6.01, 15.77), dpi=100)
ax1 = fig.add_axes([0.1032, 0.6982, 0.862, 0.2936])
ax2 = fig.add_axes([0.1032, 0.3634, 0.862, 0.2974])
ax3 = fig.add_axes([0.1032, 0.0368, 0.862, 0.2892])

draw_panel(ax1, t_surv_runs, surv_runs, surv_runs_b, t_surv, surv_mean, thick_idx=0)
ax1.set_ylim(-0.18, 1.0)
ax1.set_yticks([0.0, 0.2, 0.4, 0.6, 0.8, 1.0])
ax1.set_ylabel('DPs Survival Fraction', fontsize=15)
add_legend(ax1, 'lower left')

draw_panel(ax2, t_ecc_runs, ecc_runs, ecc_runs_b, t_ecc, ecc_mean, thick_idx=2)
ax2.set_ylim(0, 0.65)
ax2.set_yticks([0.0, 0.1, 0.2, 0.3, 0.4, 0.5, 0.6])
ax2.set_ylabel('DPs Mean Eccentricity', fontsize=15)
add_legend(ax2, 'lower right')

draw_panel(ax3, t_inc_runs, inc_runs, inc_runs_b, t_inc, inc_mean, thick_idx=2)
ax3.set_ylim(0, 48)
ax3.set_yticks([0, 10, 20, 30, 40])
ax3.set_ylabel(r'DPs Mean Inclination [$^\circ$]', fontsize=15)
add_legend(ax3, 'upper left')

fig.savefig('out.png', dpi=100)
